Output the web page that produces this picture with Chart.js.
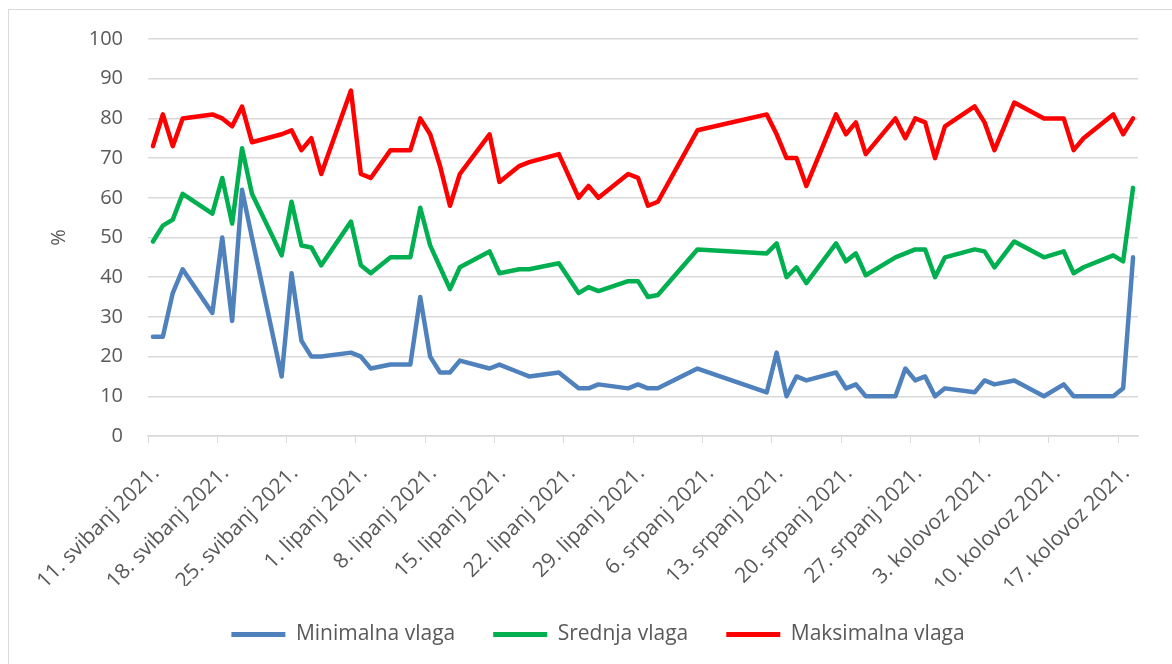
<!DOCTYPE html>
<html>
<head>
<meta charset="utf-8">
<script src="https://cdn.jsdelivr.net/npm/chart.js@4.4.0/dist/chart.umd.min.js"></script>
<style>
  html, body { margin: 0; padding: 0; background: #fff; }
  #wrap { position: relative; width: 1172px; height: 664px; overflow: hidden; }
  #frame { position: absolute; left: 8px; top: 9px; width: 1190px; height: 700px; border: 1px solid #d9d9d9; box-sizing: border-box; }
  canvas { position: absolute; left: 0; top: 0; }
</style>
</head>
<body>
<div id="wrap">
  <div id="frame"></div>
  <canvas id="humidityChart" width="1172" height="664"></canvas>
</div>
<script>
// days counted from 11. svibanj 2021.
const days = [0, 1, 2, 3, 6, 7, 8, 9, 10, 13, 14, 15, 16, 17, 20, 21, 22, 24, 26, 27, 28, 29, 30, 31,
  34, 35, 37, 38, 41, 43, 44, 45, 48, 49, 50, 51, 55, 62, 63, 64, 65, 66, 69, 70, 71, 72, 75, 76,
  77, 78, 79, 80, 83, 84, 85, 87, 90, 92, 93, 94, 97, 98, 99];

const minVlaga = [25, 25, 36, 42, 31, 50, 29, 62, 50, 15, 41, 24, 20, 20, 21, 20, 17, 18, 18, 35, 20, 16, 16, 19,
  17, 18, 16, 15, 16, 12, 12, 13, 12, 13, 12, 12, 17, 11, 21, 10, 15, 14, 16, 12, 13, 10, 10, 17,
  14, 15, 10, 12, 11, 14, 13, 14, 10, 13, 10, 10, 10, 12, 45];

const srednjaVlaga = [49, 53, 54.5, 61, 56, 65, 53.5, 72.5, 61, 45.5, 59, 48, 47.5, 43, 54, 43, 41, 45, 45, 57.5, 48, 42.5, 37, 42.5,
  46.5, 41, 42, 42, 43.5, 36, 37.5, 36.5, 39, 39, 35, 35.5, 47, 46, 48.5, 40, 42.5, 38.5, 48.5, 44, 46, 40.5, 45, 46,
  47, 47, 40, 45, 47, 46.5, 42.5, 49, 45, 46.5, 41, 42.5, 45.5, 44, 62.5];

const maksVlaga = [73, 81, 73, 80, 81, 80, 78, 83, 74, 76, 77, 72, 75, 66, 87, 66, 65, 72, 72, 80, 76, 68, 58, 66,
  76, 64, 68, 69, 71, 60, 63, 60, 66, 65, 58, 59, 77, 81, 76, 70, 70, 63, 81, 76, 79, 71, 80, 75,
  80, 79, 70, 78, 83, 79, 72, 84, 80, 80, 72, 75, 81, 76, 80];

const tickDays = [0, 7, 14, 21, 28, 35, 42, 49, 56, 63, 70, 77, 84, 91, 98];
const tickLabels = ["11. svibanj 2021.", "18. svibanj 2021.", "25. svibanj 2021.", "1. lipanj 2021.",
  "8. lipanj 2021.", "15. lipanj 2021.", "22. lipanj 2021.", "29. lipanj 2021.", "6. srpanj 2021.",
  "13. srpanj 2021.", "20. srpanj 2021.", "27. srpanj 2021.", "3. kolovoz 2021.", "10. kolovoz 2021.",
  "17. kolovoz 2021."];

const seriesNames = ["Minimalna vlaga", "Srednja vlaga", "Maksimalna vlaga"];
const seriesColors = ["#4f81bd", "#00b050", "#ff0000"];

// each point sits in the middle of its day slot
const toPoints = (values) => values.map((v, i) => ({ x: days[i] + 0.5, y: v }));

const textColor = "#595959";
const gridColor = "#d9d9d9";
const fontFamily = "'Open Sans', sans-serif";

const datasets = [minVlaga, srednjaVlaga, maksVlaga].map((values, i) => ({
  label: seriesNames[i],
  data: toPoints(values),
  borderColor: seriesColors[i],
  backgroundColor: seriesColors[i],
  borderWidth: 4.5,
  pointRadius: 0,
  tension: 0,
  borderJoinStyle: "round",
  borderCapStyle: "round",
}));

new Chart(document.getElementById("humidityChart"), {
  type: "line",
  data: { datasets },
  options: {
    responsive: false,
    animation: false,
    devicePixelRatio: 1,
    layout: { padding: { top: 39, right: 34, left: 58, bottom: 9 } },
    plugins: {
      tooltip: { enabled: false },
      legend: {
        position: "bottom",
        labels: {
          color: textColor,
          font: { family: fontFamily, size: 21 },
          boxWidth: 54,
          boxHeight: 5,
          padding: 38,
          generateLabels: (chart) =>
            Chart.defaults.plugins.legend.labels.generateLabels(chart).map((item) => ({
              ...item,
              fillStyle: item.strokeStyle,
              lineWidth: 0,
            })),
        },
      },
    },
    scales: {
      x: {
        type: "linear",
        min: 0,
        max: 100,
        afterBuildTicks: (scale) => {
          scale.ticks = tickDays.map((d) => ({ value: d }));
        },
        afterFit: (scale) => {
          scale.height = 150;
        },
        ticks: {
          autoSkip: false,
          minRotation: 45,
          maxRotation: 45,
          padding: 18,
          labelOffset: 8,
          color: textColor,
          font: { family: fontFamily, size: 21 },
          callback: (value) => tickLabels[tickDays.indexOf(value)],
        },
        grid: { drawOnChartArea: false, color: gridColor, tickLength: 7 },
        border: { color: gridColor, width: 1.5 },
      },
      y: {
        min: 0,
        max: 100,
        afterFit: (scale) => {
          scale.width = 90;
        },
        ticks: {
          stepSize: 10,
          padding: 25,
          color: textColor,
          font: { family: fontFamily, size: 20 },
        },
        grid: { color: gridColor, lineWidth: 1.5, drawTicks: false },
        border: { display: false },
        title: {
          display: true,
          text: "%",
          color: textColor,
          font: { family: fontFamily, size: 20 },
          padding: { top: -11, bottom: 0 },
        },
      },
    },
  },
});
</script>
</body>
</html>
